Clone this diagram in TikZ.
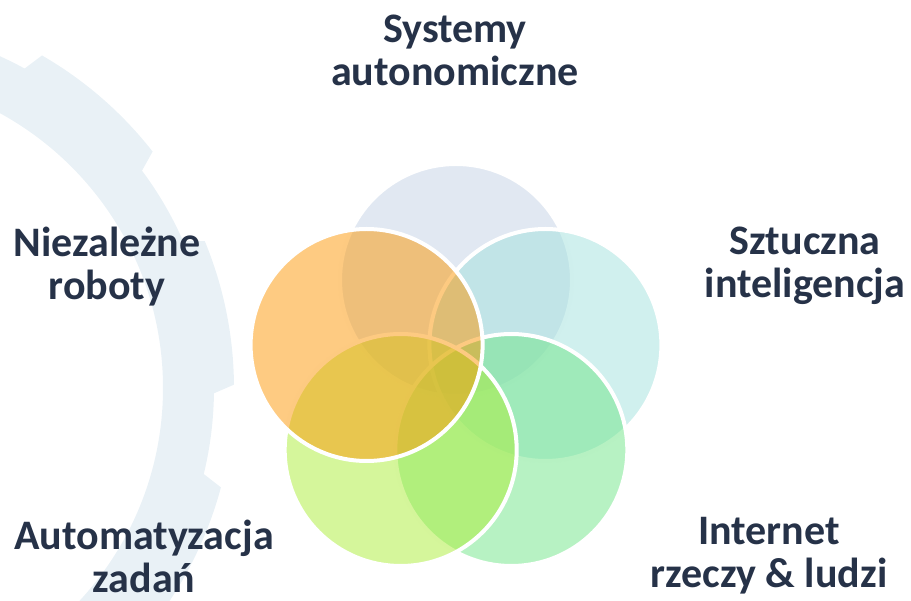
\documentclass[tikz,border=0pt]{standalone}
\usepackage{fontspec}
\setmainfont{Carlito}
\definecolor{gearc}{HTML}{E9F1F6}
\definecolor{txt}{HTML}{263248}
\definecolor{cA}{RGB}{195,209,229}
\definecolor{cB}{RGB}{161,225,221}
\definecolor{cC}{RGB}{111,229,135}
\definecolor{cD}{RGB}{171,237,55}
\definecolor{cE}{RGB}{253,151,5}
\begin{document}
\begin{tikzpicture}[x=1pt,y=-1pt,
  petal/.style={circle, draw=white, line width=4pt, fill opacity=0.5, minimum size=232pt, inner sep=0pt, outer sep=0pt},
  lbl/.style={font=\fontsize{42}{43}\selectfont\bfseries, text=txt, align=center, inner sep=0pt}]
\useasboundingbox (0,0) rectangle (911,601);
\begin{scope}
  \clip (0,0) rectangle (911,601);
  \begin{scope}[shift={(-150,388)}, yscale=-1]
    \fill[gearc, even odd rule] (0,0) circle[radius=364] (0,0) circle[radius=313];
    \foreach \c in {-101,-63.5,-26,11.5,49,86.5,124} {
      \fill[gearc] ({\c-13}:355) -- ({\c-11}:384) arc[start angle={\c-11}, end angle={\c+11}, radius=384] -- ({\c+13}:355) -- cycle;
    }
  \end{scope}
\end{scope}
\node[petal, fill=cA] (pa) at (456,280) {};
\node[petal, fill=cB] (pb) at (545.4,345) {};
\node[petal, fill=cC] (pc) at (511.3,450) {};
\node[petal, fill=cD] (pd) at (400.7,450) {};
\node[petal, fill=cE] (pe) at (366.6,345) {};
\node[lbl] (t1) at (455,50) {Systemy\\autonomiczne};
\node[lbl] (t2) at (107,267) {Niezależne\\roboty};
\node[lbl] (t3) at (805,266) {Sztuczna\\inteligencja};
\node[lbl] (t4) at (144,556) {Automatyzacja\\zadań};
\node[lbl] (t5) at (769,556) {Internet\\rzeczy \& ludzi};
\end{tikzpicture}
\end{document}
